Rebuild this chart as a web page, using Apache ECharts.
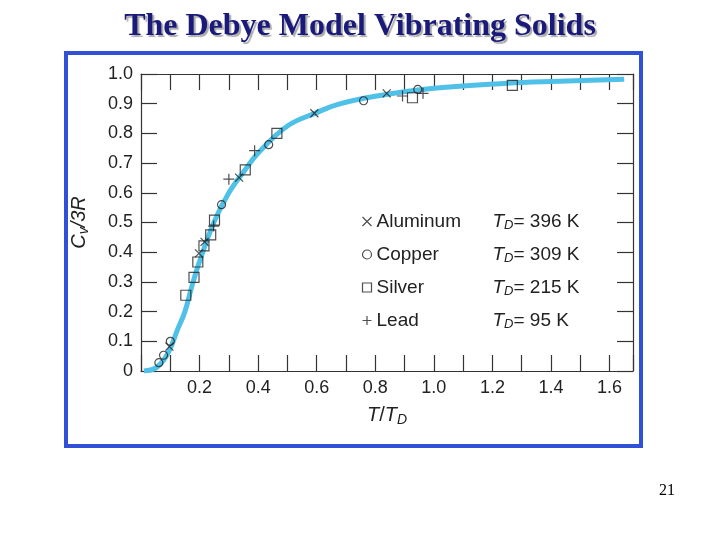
<!DOCTYPE html>
<html>
<head>
<meta charset="utf-8">
<script src="https://cdn.jsdelivr.net/npm/echarts@6/dist/echarts.min.js"></script>
<style>
  body { margin: 0; background: #fff; }
  #chart { width: 720px; height: 540px; }
</style>
</head>
<body>
<div id="chart"></div>
<script>
// data: [T/TD, Cv/3R]
const curve = [[0.01, 0], [0.05, 0.01], [0.08, 0.04], [0.1, 0.076], [0.125, 0.14], [0.15, 0.2], [0.175, 0.29],
  [0.2, 0.369], [0.25, 0.503], [0.3, 0.6], [0.35, 0.67], [0.4, 0.734], [0.5, 0.825], [0.6, 0.87],
  [0.67, 0.897], [0.8, 0.925], [1.0, 0.952], [1.25, 0.969], [1.4, 0.975], [1.65, 0.982]]
const aluminum = [[0.097, 0.082], [0.198, 0.396], [0.217, 0.435], [0.335, 0.651], [0.592, 0.868], [0.839, 0.935]]
const copper = [[0.061, 0.028], [0.077, 0.053], [0.1, 0.1], [0.275, 0.56], [0.436, 0.762], [0.76, 0.91], [0.945, 0.948]]
const silver = [[0.153, 0.255], [0.181, 0.315], [0.194, 0.367], [0.215, 0.421], [0.238, 0.458], [0.251, 0.508],
  [0.356, 0.677], [0.464, 0.8], [0.927, 0.92], [1.268, 0.962]]
const lead = [[0.248, 0.488], [0.3, 0.646], [0.388, 0.742], [0.893, 0.926], [0.963, 0.935]]
const names = ['Aluminum', 'Copper', 'Silver', 'Lead']
const debyeTemps = ['396', '309', '215', '95']

const chart = echarts.init(document.getElementById('chart'))

const markStyle = { color: 'none', borderColor: '#222', borderWidth: 1.2 }
const symbols = {
  Aluminum: 'path://M0,0L10,10M10,0L0,10',
  Copper: 'circle',
  Silver: 'rect',
  Lead: 'path://M5,0L5,10M0,5L10,5'
}
const sizes = { Aluminum: 8, Copper: 8, Silver: 10, Lead: 11 }
const dataByName = { Aluminum: aluminum, Copper: copper, Silver: silver, Lead: lead }

const font = 'Liberation Sans, Arial, sans-serif'
const lineSt = { show: true, onZero: false, lineStyle: { color: '#333', width: 1.2 } }
const tickSt = { show: true, inside: true, length: 16, lineStyle: { color: '#333', width: 1.2 } }

chart.setOption({
  animation: false,
  textStyle: { fontFamily: font },
  title: {
    text: 'The Debye Model Vibrating Solids',
    left: 'center', top: 6,
    textStyle: {
      fontFamily: 'Liberation Serif, Times New Roman, serif', fontSize: 32, fontWeight: 'bold',
      color: '#1a1a7a', textShadowColor: '#aaa', textShadowOffsetX: 2, textShadowOffsetY: 2, textShadowBlur: 1
    }
  },
  graphic: [
    { type: 'rect', shape: { x: 66, y: 53, width: 575, height: 393 }, style: { fill: 'none', stroke: '#3050d8', lineWidth: 4 } },
    { type: 'text', left: 659, top: 483, style: { text: '21', font: '16px Liberation Serif, serif', fill: '#000' } }
  ],
  legend: {
    orient: 'vertical', left: 355, top: 207, itemGap: 13, itemWidth: 9, itemHeight: 9,
    data: names.map(n => ({ name: n, icon: symbols[n] })),
    itemStyle: markStyle,
    formatter: n => '{a|' + n + '}{b|T}{s|D}{c|= ' + debyeTemps[names.indexOf(n)] + ' K}',
    textStyle: {
      rich: {
        a: { fontSize: 19, width: 116, color: '#222', fontFamily: font },
        b: { fontSize: 19, fontStyle: 'italic', color: '#222', fontFamily: font },
        s: { fontSize: 13, fontStyle: 'italic', color: '#222', verticalAlign: 'bottom', padding: [8, 0, 0, 0], fontFamily: font },
        c: { fontSize: 19, color: '#222', fontFamily: font }
      }
    }
  },
  grid: { left: 141, right: 87, top: 74, bottom: 169 },
  xAxis: [{
    type: 'value', position: 'bottom', min: 0, max: 1.68, interval: 0.1,
    name: '{i|T}{n|/}{i|T}{s|D}', nameLocation: 'middle', nameGap: 32,
    nameTextStyle: { rich: {
      i: { fontSize: 20, fontStyle: 'italic', color: '#222' },
      n: { fontSize: 20, color: '#222' },
      s: { fontSize: 14, fontStyle: 'italic', color: '#222', padding: [10, 0, 0, 0] }
    } },
    axisLine: lineSt, axisTick: tickSt,
    axisLabel: {
      fontSize: 18, color: '#222', margin: 8,
      formatter: v => { const r = Math.round(v * 10); return (r > 0 && r % 2 === 0 && r <= 16) ? (r / 10).toFixed(1) : '' }
    },
    splitLine: { show: false }
  }, {
    type: 'value', position: 'top', min: 0, max: 1.68, interval: 0.1,
    axisLine: lineSt, axisTick: tickSt, axisLabel: { show: false }, splitLine: { show: false }
  }],
  yAxis: [{
    type: 'value', position: 'left', min: 0, max: 1, interval: 0.1,
    name: '{i|C}{s|v}{n|/3}{i|R}', nameLocation: 'middle', nameGap: 50, nameRotate: 90,
    nameTextStyle: { rich: {
      i: { fontSize: 20, fontStyle: 'italic', color: '#222' },
      n: { fontSize: 20, fontStyle: 'italic', color: '#222' },
      s: { fontSize: 14, fontStyle: 'italic', color: '#222', padding: [10, 0, 0, 0] }
    } },
    axisLine: lineSt, axisTick: tickSt,
    axisLabel: {
      fontSize: 18, color: '#222', margin: 8,
      formatter: v => v === 0 ? '0' : v.toFixed(1)
    },
    splitLine: { show: false }
  }, {
    type: 'value', position: 'right', min: 0, max: 1, interval: 0.1,
    axisLine: lineSt, axisTick: tickSt, axisLabel: { show: false }, splitLine: { show: false }
  }],
  series: [
    {
      type: 'line', data: curve, smooth: 0.4, showSymbol: false, silent: true,
      lineStyle: { color: '#4fc0e8', width: 5 }, z: 1
    },
    ...names.map(n => ({
      name: n, type: 'scatter', data: dataByName[n], symbol: symbols[n], symbolSize: sizes[n],
      itemStyle: markStyle, z: 3
    }))
  ]
})
</script>
</body>
</html>
